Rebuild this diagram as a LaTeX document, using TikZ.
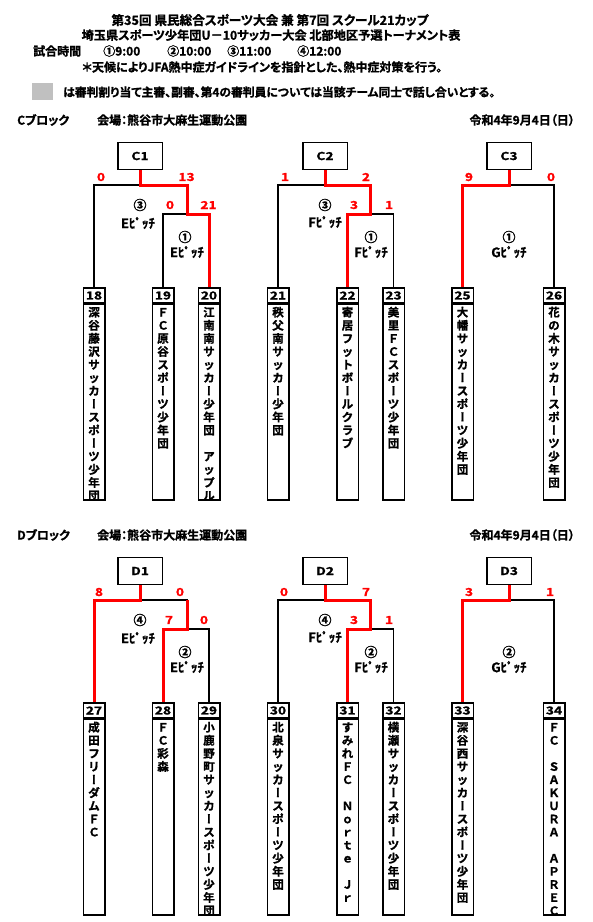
\documentclass[tikz,border=0pt]{standalone}
\usepackage{fontspec}
\usetikzlibrary{calc}
\setmainfont{Noto Sans CJK JP Bold}[RawFeature=+palt, FakeBold=1.2]
\newfontfamily\jpf{Noto Sans CJK JP Bold}[FakeBold=1.2]
\newfontfamily\jpv{Noto Sans CJK JP Bold}[RawFeature=+vert, FakeBold=1.2]
\definecolor{lgray}{RGB}{192,192,192}
\newcommand\wdig[1]{\scalebox{1.25}[1]{#1}}
\makeatletter
\newcommand\vtxt[1]{\vbox{\jpf\fontsize{11.5}{13.1}\selectfont\baselineskip=13.1pt\lineskiplimit=-100pt\lineskip=0pt\vt@#1\relax}}
\def\vt@#1{\ifx\relax#1\else\vt@char{#1}\expandafter\vt@\fi}
\def\vt@char#1{\hbox to 21.5pt{\hss\vrule height 12.6pt depth 0.5pt width 0pt\vt@sel#1\hss}}
\def\vt@sel#1{\ifx ー#1{\jpv ー}\else #1\fi}
\makeatother
\tikzset{
  br/.style={line width=1.5pt},
  wn/.style={draw=red, line width=3pt},
  numbox/.style={draw, line width=1.5pt, minimum width=21.5pt, minimum height=15pt, inner sep=0pt, font=\jpf\fontsize{11}{11}\selectfont},
  namebox/.style={draw, line width=1.5pt, minimum width=21.5pt, minimum height=195.5pt, inner sep=0pt, anchor=north},
  blkbox/.style={draw, line width=1.5pt, minimum width=44.5pt, minimum height=27pt, inner sep=0pt, font=\jpf\fontsize{11}{11}\selectfont},
  score/.style={text=red, inner sep=0pt, font=\jpf\fontsize{11}{11}\selectfont},
  match/.style={inner sep=0pt, font=\jpf\fontsize{13}{13}\selectfont},
  pitch/.style={inner sep=0pt, font=\jpf\fontsize{13}{13}\selectfont},
  hdr/.style={inner sep=0pt, font=\fontsize{12}{12}\selectfont},
}
\newcommand\team[4]{%
  \node[numbox] (n#1) at (#2,#3+7.5) {\wdig{#1}};
  \node[namebox] (b#1) at (n#1.south) {};
  \begin{scope}
    \clip (b#1.south west) rectangle (b#1.north east);
    \node[anchor=north, inner sep=0pt] (t#1) at (b#1.north) {\vtxt{#4}};
  \end{scope}}
\begin{document}
\begin{tikzpicture}[x=1pt,y=-1pt]
\useasboundingbox (0,0) rectangle (593,922);
% header
\node[hdr, font=\fontsize{12.6}{12.6}\selectfont] (h1) at (270,20) {第35回 県民総合スポーツ大会 兼 第7回 スクール21カップ};
\node[hdr, font=\fontsize{12.2}{12.2}\selectfont] (h2) at (271,35) {埼玉県スポーツ少年団U－10サッカー大会 北部地区予選トーナメント表};
\node[hdr, anchor=west] (h3a) at (33,51) {試合時間};
\node[hdr, anchor=west] (h3b) at (103,51) {①9:00};
\node[hdr, anchor=west] (h3c) at (167,51) {②10:00};
\node[hdr, anchor=west] (h3d) at (227,51) {③11:00};
\node[hdr, anchor=west] (h3e) at (297,51) {④12:00};
\node[hdr, anchor=west] (h4) at (82,67) {＊天候によりJFA熱中症ガイドラインを指針とした、熱中症対策を行う。};
\node[fill=lgray, minimum width=21pt, minimum height=17pt, inner sep=0pt, anchor=north west] (gb) at (32,83) {};
\node[hdr, anchor=west, font=\fontsize{11.8}{11.8}\selectfont] (h5) at (63,92) {は審判割り当て主審、副審、第4の審判員については当該チーム同士で話し合いとする。};
% ---------------- C block
\node[hdr, anchor=west] (cb) at (17,120) {Cブロック};
\node[hdr, anchor=west] (cv) at (97,120) {会場：熊谷市大麻生運動公園};
\node[hdr, anchor=east] (cd) at (575,120) {令和4年9月4日（日）};
\node[blkbox] (c1) at (140,156) {\wdig{C1}};
\node[blkbox] (c2) at (325,156) {\wdig{C2}};
\node[blkbox] (c3) at (509,156) {\wdig{C3}};
\team{18}{94}{288}{深谷藤沢サッカースポーツ少年団}
\team{19}{163}{288}{ＦＣ原谷スポーツ少年団}
\team{20}{209}{288}{江南南サッカー少年団　アップル}
\team{21}{278}{288}{秩父南サッカー少年団}
\team{22}{347.5}{288}{寄居フットボールクラブ}
\team{23}{393.5}{288}{美里ＦＣスポーツ少年団}
\team{25}{462.5}{288}{大幡サッカースポーツ少年団}
\team{26}{554}{288}{花の木サッカースポーツ少年団}
\coordinate (c1m) at (187,185); \coordinate (c1i) at (187,214);
\coordinate (c2m) at (370.5,185); \coordinate (c2i) at (370.5,214);
\draw[br] (n18.north) |- (c1m) -- (c1i);
\draw[br] (c1.south) -- (c1.south |- c1m);
\draw[br] (n19.north) |- (c1i) -| (n20.north);
\draw[br] (n21.north) |- (c2m) -- (c2i);
\draw[br] (c2.south) -- (c2.south |- c2m);
\draw[br] (n22.north) |- (c2i) -| (n23.north);
\draw[br] (n25.north) |- (c3.south |- c1m) -| (n26.north);
\draw[br] (c3.south) -- (c3.south |- c1m);
\draw[wn] (c1.south) |- (c1m) -- (c1i) -| (n20.north);
\draw[wn] (c2.south) |- (c2m) -- (c2i) -| (n22.north);
\draw[wn] (c3.south) -- (c3.south |- c1m) -| (n25.north);
\node[score] (s1) at (101,177) {\wdig{0}};
\node[score] (s2) at (186.5,177) {\wdig{13}};
\node[score] (s3) at (170,205) {\wdig{0}};
\node[score] (s4) at (208.5,205) {\wdig{21}};
\node[score] (s5) at (285,177) {\wdig{1}};
\node[score] (s6) at (366,177) {\wdig{2}};
\node[score] (s7) at (354,205) {\wdig{3}};
\node[score] (s8) at (389,205) {\wdig{1}};
\node[score] (s9) at (469,177) {\wdig{9}};
\node[score] (s10) at (551,177) {\wdig{0}};
\node[match] (m1) at (140,205) {③};
\node[pitch] (p1) at (138,223) {Eﾋﾟｯﾁ};
\node[match] (m2) at (185,237) {①};
\node[pitch] (p2) at (187,252) {Eﾋﾟｯﾁ};
\node[match] (m3) at (325,205) {③};
\node[pitch] (p3) at (325,222) {Fﾋﾟｯﾁ};
\node[match] (m4) at (371,237) {①};
\node[pitch] (p4) at (371,252) {Fﾋﾟｯﾁ};
\node[match] (m5) at (509,237) {①};
\node[pitch] (p5) at (509,252) {Gﾋﾟｯﾁ};
% ---------------- D block
\node[hdr, anchor=west] (db) at (17,535) {Dブロック};
\node[hdr, anchor=west] (dv) at (97,535) {会場：熊谷市大麻生運動公園};
\node[hdr, anchor=east] (dd) at (575,535) {令和4年9月4日（日）};
\node[blkbox] (d1) at (140,571) {\wdig{D1}};
\node[blkbox] (d2) at (325,571) {\wdig{D2}};
\node[blkbox] (d3) at (509,571) {\wdig{D3}};
\team{27}{94}{703}{成田フリーダムＦＣ}
\team{28}{163}{703}{ＦＣ彩森}
\team{29}{209}{703}{小鹿野町サッカースポーツ少年団}
\team{30}{278}{703}{北泉サッカースポーツ少年団}
\team{31}{347.5}{703}{すみれＦＣ　Ｎｏｒｔｅ　Ｊｒ}
\team{32}{393.5}{703}{横瀬サッカースポーツ少年団}
\team{33}{462.5}{703}{深谷西サッカースポーツ少年団}
\team{34}{554}{703}{ＦＣ　ＳＡＫＵＲＡ　ＡＰＲＥＣ}
\coordinate (d1m) at (187,600); \coordinate (d1i) at (187,629);
\coordinate (d2m) at (370.5,600); \coordinate (d2i) at (370.5,629);
\draw[br] (n27.north) |- (d1m) -- (d1i);
\draw[br] (d1.south) -- (d1.south |- d1m);
\draw[br] (n28.north) |- (d1i) -| (n29.north);
\draw[br] (n30.north) |- (d2m) -- (d2i);
\draw[br] (d2.south) -- (d2.south |- d2m);
\draw[br] (n31.north) |- (d2i) -| (n32.north);
\draw[br] (n33.north) |- (d3.south |- d1m) -| (n34.north);
\draw[br] (d3.south) -- (d3.south |- d1m);
\draw[wn] (d1.south) -- (d1.south |- d1m) -| (n27.north);
\draw[wn] (d1m) -- (d1i) -| (n28.north);
\draw[wn] (d2.south) |- (d2m) -- (d2i) -| (n31.north);
\draw[wn] (d3.south) -- (d3.south |- d1m) -| (n33.north);
\node[score] (s11) at (99,592) {\wdig{8}};
\node[score] (s12) at (180,592) {\wdig{0}};
\node[score] (s13) at (169,620) {\wdig{7}};
\node[score] (s14) at (204,620) {\wdig{0}};
\node[score] (s15) at (284,592) {\wdig{0}};
\node[score] (s16) at (366,592) {\wdig{7}};
\node[score] (s17) at (354,620) {\wdig{3}};
\node[score] (s18) at (389,620) {\wdig{1}};
\node[score] (s19) at (469,592) {\wdig{3}};
\node[score] (s20) at (550,592) {\wdig{1}};
\node[match] (m6) at (140,620) {④};
\node[pitch] (p6) at (138,638) {Eﾋﾟｯﾁ};
\node[match] (m7) at (185,652) {②};
\node[pitch] (p7) at (187,667) {Eﾋﾟｯﾁ};
\node[match] (m8) at (325,620) {④};
\node[pitch] (p8) at (325,637) {Fﾋﾟｯﾁ};
\node[match] (m9) at (371,652) {②};
\node[pitch] (p9) at (371,667) {Fﾋﾟｯﾁ};
\node[match] (m10) at (509,652) {②};
\node[pitch] (p10) at (509,667) {Gﾋﾟｯﾁ};
\end{tikzpicture}
\end{document}
